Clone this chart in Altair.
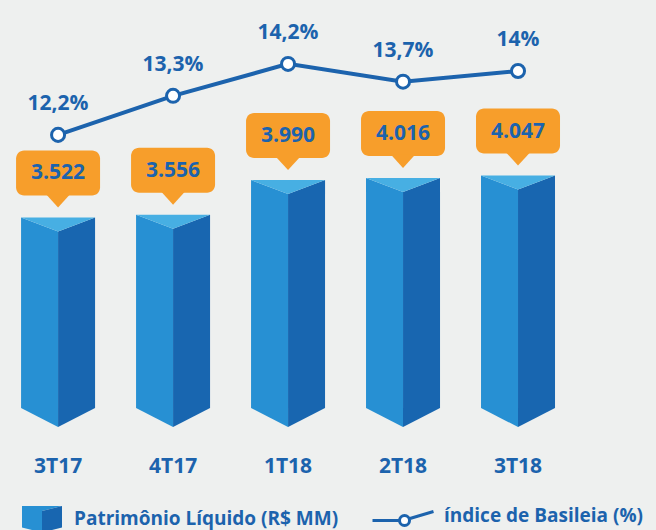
import altair as alt
import pandas as pd

# ---------------- data ----------------
categories = ["3T17", "4T17", "1T18", "2T18", "3T18"]
patrimonio = [3522, 3556, 3990, 4016, 4047]          # R$ MM
basileia = [12.2, 13.3, 14.2, 13.7, 14.0]             # %
serie_bar = "Patrimônio Líquido (R$ MM)"
serie_line = "índice de Basileia (%)"
face_dark = "lado"   # shading of the right face (legend icon only, label hidden)

# ---------------- style ----------------
W, H = 656, 530
BG = "#eef0ef"
C_LEFT = "#2790d3"
C_RIGHT = "#1866b0"
C_TOP = "#47afe3"
C_ORANGE = "#f79e2b"
C_BLUE = "#1c63ad"
FONT = "Open Sans"

X_DOMAIN = [-0.505, 5.2]       # category index scale
Y_DOMAIN = [-400, 6250]        # R$ MM scale
P_DOMAIN = [1.07, 16.0]        # % scale

xu = (X_DOMAIN[1] - X_DOMAIN[0]) / W   # x units per px
yu = (Y_DOMAIN[1] - Y_DOMAIN[0]) / H   # y units per px
HALF_W = 37 * xu
TOP_DEPTH = 14 * yu
BOT_DEPTH = 19 * yu
BASE = Y_DOMAIN[1] - 408 * yu

def fmt_val(v):
    return f"{v:,}".replace(",", ".")

def fmt_pct(p):
    return f"{p:g}".replace(".", ",") + "%"

left_rows, right_rows, top_rows = [], [], []
for i, v in enumerate(patrimonio):
    left_rows += [
        dict(bar=i, x=i - HALF_W, y=v, y2=BASE, serie=serie_bar),
        dict(bar=i, x=i, y=v - TOP_DEPTH, y2=BASE - BOT_DEPTH, serie=serie_bar),
    ]
    right_rows += [
        dict(bar=i, x=i, y=v - TOP_DEPTH, y2=BASE - BOT_DEPTH, face=face_dark),
        dict(bar=i, x=i + HALF_W, y=v, y2=BASE, face=face_dark),
    ]
    top_rows += [
        dict(bar=i, x=i - HALF_W, y=v, y2=v),
        dict(bar=i, x=i, y=v, y2=v - TOP_DEPTH),
        dict(bar=i, x=i + HALF_W, y=v, y2=v),
    ]
df_left = pd.DataFrame(left_rows)
df_right = pd.DataFrame(right_rows)
df_top = pd.DataFrame(top_rows)

df_main = pd.DataFrame({
    "i": list(range(len(categories))),
    "cat": categories,
    "v": patrimonio,
    "vlabel": [fmt_val(v) for v in patrimonio],
    "bx1": [i - 42 * xu for i in range(len(categories))],
    "bx2": [i + 42 * xu for i in range(len(categories))],
    "p": basileia,
    "plabel": [fmt_pct(p) for p in basileia],
    "serie": serie_line,
})

xs = alt.Scale(domain=X_DOMAIN, nice=False, zero=False)
ys = alt.Scale(domain=Y_DOMAIN, nice=False, zero=False)
ps = alt.Scale(domain=P_DOMAIN, nice=False, zero=False)

CUBE_LEFT = "M-1,-0.625L1,-0.625L0,-0.375L0,0.7L-1,0.45Z"
CUBE_RIGHT = "M0,-0.375L1,-0.625L1,0.45L0,0.7Z"
LINE_ICON = ("M-1,0.148L-0.114,0.148M0.214,0.148A0.164,0.164,0,1,1,-0.114,0.148"
             "A0.164,0.164,0,1,1,0.214,0.148M0.2,0.09L1,-0.148")

leg_common = dict(orient="none", title=None, padding=0, labelFont=FONT,
                  labelFontSize=19, labelFontWeight="bold", labelColor=C_BLUE,
                  labelOffset=12, symbolStrokeWidth=0, labelLimit=400)

X = alt.X("x:Q", scale=xs, axis=None)
Y = alt.Y("y:Q", scale=ys, axis=None)

left = alt.Chart(df_left).mark_area(orient="vertical", interpolate="linear").encode(
    x=X, y=Y, y2="y2:Q", detail="bar:N",
    fill=alt.Fill("serie:N", scale=alt.Scale(domain=[serie_bar], range=[C_LEFT]),
                  legend=alt.Legend(legendX=22, legendY=498.5, symbolType=CUBE_LEFT,
                                    symbolSize=1600, **leg_common)),
)
right = alt.Chart(df_right).mark_area(orient="vertical", interpolate="linear").encode(
    x=X, y=Y, y2="y2:Q", detail="bar:N",
    color=alt.Color("face:N", scale=alt.Scale(domain=[face_dark], range=[C_RIGHT]),
                    legend=alt.Legend(legendX=22, legendY=498.5, symbolType=CUBE_RIGHT,
                                      symbolSize=1600, labelExpr="''", **leg_common)),
)
top = alt.Chart(df_top).mark_area(orient="vertical", interpolate="linear", color=C_TOP).encode(
    x=X, y=Y, y2="y2:Q", detail="bar:N",
)

base = alt.Chart(df_main)
XC = alt.X("i:Q", scale=xs, axis=None)
YV = alt.Y("v:Q", scale=ys, axis=None)

box = base.mark_rect(cornerRadius=8, color=C_ORANGE, yOffset=-67, y2Offset=-22).encode(
    x=alt.X("bx1:Q", scale=xs, axis=None), x2="bx2:Q", y=YV, y2="v:Q",
)
tri = base.mark_point(shape="M-1,-0.6L1,-0.6L0,0.5Z", size=576, filled=True,
                      color=C_ORANGE, opacity=1, strokeWidth=0, yOffset=-16).encode(
    x=XC, y=YV,
)
vtext = base.mark_text(font=FONT, fontSize=21, fontWeight="bold", color=C_BLUE,
                       baseline="middle", dy=-44).encode(x=XC, y=YV, text="vlabel:N")

cat = base.mark_text(font=FONT, fontSize=21, fontWeight="bold", color=C_BLUE,
                     baseline="middle").encode(x=XC, y=alt.value(467), text="cat:N")

YP = alt.Y("p:Q", scale=ps, axis=None)
line = base.mark_line(strokeWidth=4).encode(
    x=XC, y=YP,
    stroke=alt.Stroke("serie:N", scale=alt.Scale(domain=[serie_line], range=[C_BLUE]),
                      legend=alt.Legend(legendX=371, legendY=484, symbolType=LINE_ICON,
                                        symbolSize=3721, symbolFillColor="white",
                                        **{**leg_common, "symbolStrokeWidth": 3,
                                           "labelOffset": 9})),
)
pts = base.mark_point(shape="circle", size=170, filled=True, fill="white",
                      stroke=C_BLUE, strokeWidth=3, opacity=1).encode(x=XC, y=YP)
ptext = base.mark_text(font=FONT, fontSize=21, fontWeight="bold", color=C_BLUE,
                       baseline="middle", dy=-31).encode(x=XC, y=YP, text="plabel:N")

pct_layer = alt.layer(line, pts, ptext)

chart = alt.layer(left, right, top, box, tri, vtext, cat, pct_layer).resolve_scale(
    y="independent"
).properties(
    width=W, height=H, padding=0, autosize=alt.AutoSizeParams(type="none"),
    background=BG,
).configure_view(stroke=None)

chart.save("out.html", embed_options={"renderer": "svg", "actions": False})
